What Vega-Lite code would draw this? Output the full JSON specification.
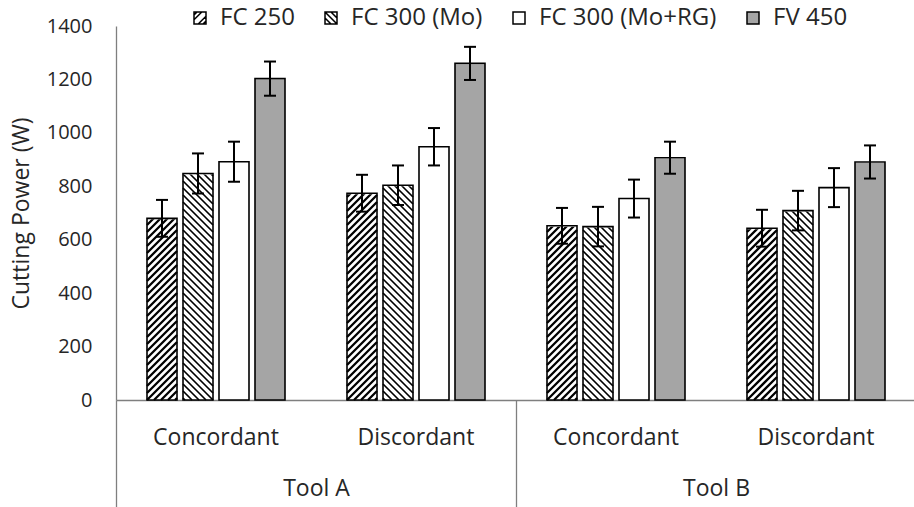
{
  "$schema": "https://vega.github.io/schema/vega-lite/v6.json",
  "width": 800,
  "height": 374,
  "autosize": {"type": "none"},
  "padding": {"left": 116, "top": 26, "right": 0, "bottom": 107},
  "config": {
    "font": "Open Sans",
    "view": {"stroke": null},
    "axis": {"grid": false, "domainColor": "#7f7f7f", "domainWidth": 1.3, "labelColor": "#262626", "titleColor": "#262626"}
  },
  "data": {
    "values": [
      {"tool": "Tool A", "cond": "Concordant", "group": "Tool A / Concordant", "series": "FC 250", "value": 680, "lo": 611, "hi": 749},
      {"tool": "Tool A", "cond": "Concordant", "group": "Tool A / Concordant", "series": "FC 300 (Mo)", "value": 848, "lo": 773, "hi": 923},
      {"tool": "Tool A", "cond": "Concordant", "group": "Tool A / Concordant", "series": "FC 300 (Mo+RG)", "value": 892, "lo": 817, "hi": 967},
      {"tool": "Tool A", "cond": "Concordant", "group": "Tool A / Concordant", "series": "FV 450", "value": 1203, "lo": 1139, "hi": 1267},
      {"tool": "Tool A", "cond": "Discordant", "group": "Tool A / Discordant", "series": "FC 250", "value": 774, "lo": 705, "hi": 843},
      {"tool": "Tool A", "cond": "Discordant", "group": "Tool A / Discordant", "series": "FC 300 (Mo)", "value": 804, "lo": 730, "hi": 878},
      {"tool": "Tool A", "cond": "Discordant", "group": "Tool A / Discordant", "series": "FC 300 (Mo+RG)", "value": 948, "lo": 878, "hi": 1018},
      {"tool": "Tool A", "cond": "Discordant", "group": "Tool A / Discordant", "series": "FV 450", "value": 1260, "lo": 1198, "hi": 1322},
      {"tool": "Tool B", "cond": "Concordant", "group": "Tool B / Concordant", "series": "FC 250", "value": 652, "lo": 585, "hi": 719},
      {"tool": "Tool B", "cond": "Concordant", "group": "Tool B / Concordant", "series": "FC 300 (Mo)", "value": 649, "lo": 575, "hi": 723},
      {"tool": "Tool B", "cond": "Concordant", "group": "Tool B / Concordant", "series": "FC 300 (Mo+RG)", "value": 754, "lo": 683, "hi": 825},
      {"tool": "Tool B", "cond": "Concordant", "group": "Tool B / Concordant", "series": "FV 450", "value": 907, "lo": 847, "hi": 967},
      {"tool": "Tool B", "cond": "Discordant", "group": "Tool B / Discordant", "series": "FC 250", "value": 643, "lo": 574, "hi": 712},
      {"tool": "Tool B", "cond": "Discordant", "group": "Tool B / Discordant", "series": "FC 300 (Mo)", "value": 709, "lo": 635, "hi": 783},
      {"tool": "Tool B", "cond": "Discordant", "group": "Tool B / Discordant", "series": "FC 300 (Mo+RG)", "value": 795, "lo": 722, "hi": 868},
      {"tool": "Tool B", "cond": "Discordant", "group": "Tool B / Discordant", "series": "FV 450", "value": 891, "lo": 829, "hi": 953}
    ]
  },
  "layer": [
    {
      "encoding": {
        "x": {
          "field": "group", "type": "nominal",
          "scale": {"paddingInner": 0, "paddingOuter": 0, "round": false},
          "axis": {"orient": "bottom", "title": null, "ticks": false, "labelAngle": 0, "labelFontSize": 23, "labelPadding": 26, "labelLimit": 300, "labelExpr": "split(datum.label, ' / ')[1]"}
        },
        "xOffset": {
          "field": "series", "type": "nominal",
          "scale": {"domain": ["FC 250", "FC 300 (Mo)", "FC 300 (Mo+RG)", "FV 450"], "paddingInner": 0.16667, "paddingOuter": 0.86111, "round": false}
        }
      },
      "layer": [
        {
          "mark": {"type": "bar"},
          "encoding": {
            "y": {
              "field": "value", "type": "quantitative", "title": "Cutting Power (W)",
              "scale": {"domain": [0, 1400], "nice": false},
              "axis": {"values": [0, 200, 400, 600, 800, 1000, 1200, 1400], "format": "d", "ticks": false, "labelFontSize": 20, "labelPadding": 24, "titleFontSize": 23, "titleFontWeight": "normal", "titlePadding": 13}
            },
            "fill": {
              "field": "series", "type": "nominal",
              "scale": {"domain": ["FC 250", "FC 300 (Mo)", "FC 300 (Mo+RG)", "FV 450"], "range": ["white", "white", "white", "#a5a5a5"]},
              "legend": {"title": null, "orient": "none", "legendX": 72, "legendY": -20, "direction": "horizontal", "symbolSize": 144, "symbolStrokeColor": "black", "symbolStrokeWidth": 1.5, "symbolOpacity": 1, "labelFontSize": 24, "labelLimit": 400, "labelColor": "#262626", "labelOffset": 8, "columnPadding": 24, "padding": 0}
            }
          }
        },
        {
          "transform": [{"filter": "datum.series === 'FC 250'"}],
          "mark": {"type": "point", "shape": "M-15,0l30,-30m-30,23l30,-30m-30,23l30,-30m-30,23l30,-30m-30,23l30,-30m-30,23l30,-30m-30,23l30,-30m-30,23l30,-30m-30,23l30,-30m-30,23l30,-30m-30,23l30,-30m-30,23l30,-30m-30,23l30,-30m-30,23l30,-30m-30,23l30,-30m-30,23l30,-30m-30,23l30,-30m-30,23l30,-30m-30,23l30,-30m-30,23l30,-30m-30,23l30,-30m-30,23l30,-30m-30,23l30,-30m-30,23l30,-30m-30,23l30,-30m-30,23l30,-30m-30,23l30,-30m-30,23l30,-30m-30,23l30,-30m-30,23l30,-30m-30,23l30,-30m-30,23l30,-30m-30,23l30,-30m-30,23l30,-30m-30,23l30,-30m-30,23l30,-30m-30,23l30,-30m-30,23l30,-30m-30,23l30,-30m-30,23l30,-30m-30,23l30,-30m-30,23l30,-30m-30,23l30,-30m-30,23l30,-30m-30,23l30,-30m-30,23l30,-30m-30,23l30,-30m-30,23l30,-30m-30,23l30,-30m-30,23l30,-30M-8,0L15,-23M-1,0L15,-16M6,0L15,-9M13,0L15,-2", "size": 4, "filled": false, "stroke": "black", "strokeWidth": 2.3, "opacity": 1},
          "encoding": {"y": {"datum": 0, "type": "quantitative", "title": "Cutting Power (W)"}}
        },
        {
          "transform": [{"filter": "datum.series === 'FC 300 (Mo)'"}],
          "mark": {"type": "point", "shape": "M-15,-30l30,30m-30,-37l30,30m-30,-37l30,30m-30,-37l30,30m-30,-37l30,30m-30,-37l30,30m-30,-37l30,30m-30,-37l30,30m-30,-37l30,30m-30,-37l30,30m-30,-37l30,30m-30,-37l30,30m-30,-37l30,30m-30,-37l30,30m-30,-37l30,30m-30,-37l30,30m-30,-37l30,30m-30,-37l30,30m-30,-37l30,30m-30,-37l30,30m-30,-37l30,30m-30,-37l30,30m-30,-37l30,30m-30,-37l30,30m-30,-37l30,30m-30,-37l30,30m-30,-37l30,30m-30,-37l30,30m-30,-37l30,30m-30,-37l30,30m-30,-37l30,30m-30,-37l30,30m-30,-37l30,30m-30,-37l30,30m-30,-37l30,30m-30,-37l30,30m-30,-37l30,30m-30,-37l30,30m-30,-37l30,30m-30,-37l30,30m-30,-37l30,30m-30,-37l30,30m-30,-37l30,30m-30,-37l30,30m-30,-37l30,30m-30,-37l30,30m-30,-37l30,30m-30,-37l30,30m-30,-37l30,30M-15,-23L8,0M-15,-16L1,0M-15,-9L-6,0M-15,-2L-13,0", "size": 4, "filled": false, "stroke": "black", "strokeWidth": 1.7, "opacity": 1},
          "encoding": {"y": {"datum": 0, "type": "quantitative", "title": "Cutting Power (W)"}}
        },
        {
          "mark": {"type": "bar", "fill": "white", "stroke": "white", "strokeWidth": 2},
          "encoding": {
            "y": {"field": "value", "type": "quantitative", "title": "Cutting Power (W)"},
            "y2": {"datum": 1400}
          }
        },
        {
          "mark": {"type": "bar", "fill": null, "stroke": "black", "strokeWidth": 1.6},
          "encoding": {"y": {"field": "value", "type": "quantitative", "title": "Cutting Power (W)"}}
        },
        {
          "mark": {"type": "rule", "color": "black", "strokeWidth": 2},
          "encoding": {
            "y": {"field": "lo", "type": "quantitative", "title": "Cutting Power (W)"},
            "y2": {"field": "hi"}
          }
        },
        {
          "mark": {"type": "tick", "color": "black", "size": 12, "thickness": 2, "opacity": 1},
          "encoding": {"y": {"field": "hi", "type": "quantitative", "title": "Cutting Power (W)"}}
        },
        {
          "mark": {"type": "tick", "color": "black", "size": 12, "thickness": 2, "opacity": 1},
          "encoding": {"y": {"field": "lo", "type": "quantitative", "title": "Cutting Power (W)"}}
        },
        {
          "mark": {"type": "point", "filled": true, "size": 144, "opacity": 0, "stroke": "black", "strokeWidth": 1.5},
          "encoding": {
            "y": {"field": "value", "type": "quantitative", "title": "Cutting Power (W)"},
            "fill": {"field": "series", "type": "nominal"},
            "shape": {
              "field": "series", "type": "nominal",
              "scale": {"domain": ["FC 250", "FC 300 (Mo)", "FC 300 (Mo+RG)", "FV 450"], "range": ["M-1,-1H1V1H-1Z M-1,0.3L0.3,-1 M-0.3,1L1,-0.3 M-1,-0.5L-0.5,-1 M0.5,1L1,0.5", "M-1,-1H1V1H-1Z M-1,-1L1,1 M0,-1L1,0 M-1,0L0,1", "M-1,-1H1V1H-1Z", "M-1,-1H1V1H-1Z"]},
              "legend": {"title": null}
            }
          }
        }
      ]
    },
    {
      "mark": {"type": "text", "opacity": 0},
      "encoding": {
        "x": {
          "field": "tool", "type": "nominal",
          "scale": {"paddingInner": 0, "paddingOuter": 0, "round": false},
          "axis": {"orient": "bottom", "title": null, "domain": false, "ticks": true, "tickBand": "extent", "tickSize": 107, "tickColor": "#7f7f7f", "tickWidth": 1.3, "labelAngle": 0, "labelFontSize": 23, "labelPadding": -30}
        }
      }
    }
  ],
  "resolve": {"scale": {"x": "independent"}, "axis": {"x": "independent"}}
}
